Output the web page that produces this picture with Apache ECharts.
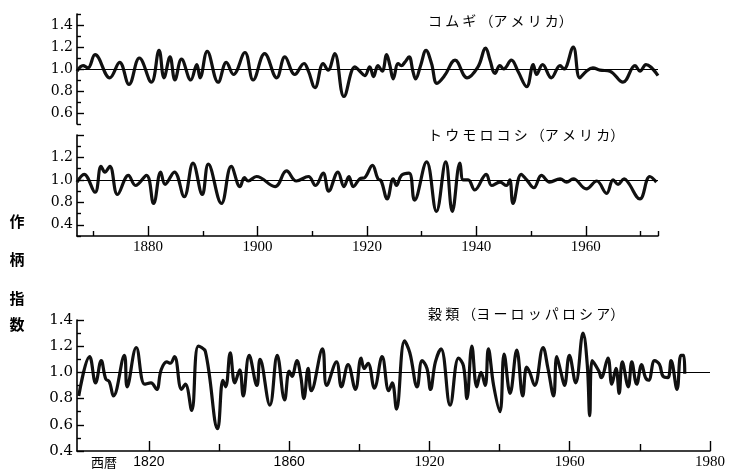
<!DOCTYPE html>
<html>
<head>
<meta charset="utf-8">
<script src="https://cdn.jsdelivr.net/npm/echarts@6/dist/echarts.min.js"></script>
<style>
html, body { margin: 0; padding: 0; background: #fff; }
#chart { width: 729px; height: 470px; }
</style>
</head>
<body>
<div id="chart"></div>
<script>
// wheat (USA) yield index, turning points
var wheatYr = [1867.0,1868.1,1869.0,1870.3,1873.0,1874.8,1876.5,1878.4,1880.6,1882.0,1882.9,1884.0,1884.9,1886.1,1887.8,1888.9,1889.5,1890.8,1892.8,1894.3,1895.6,1897.7,1899.2,1901.3,1903.5,1905.0,1906.8,1908.5,1909.3,1910.5,1912.0,1912.9,1914.1,1915.8,1917.8,
	1918.7,1919.6,1920.5,1921.2,1922.0,1922.8,1923.6,1924.2,1924.8,1925.7,1926.3,1926.9,1927.7,1928.4,1928.9,1929.8,1930.8,1931.8,1932.8,1934.2,1936.1,1938.3,1940.3,1941.7,1942.5,1943.4,1944.3,1945.0,1946.4,1947.6,1949.2,1950.4,1951.0,1952.1,1953.7,1955.3,1956.0,1957.7,1958.9,1960.1,1961.3,1962.6,1964.4,1966.8,1969.0,1969.9,1971.0,1973.2];
var wheatIdx = [0.98,1.03,1.01,1.13,0.92,1.06,0.86,1.10,0.88,1.17,0.92,1.11,0.90,1.09,0.90,1.04,0.92,1.16,0.88,1.06,0.95,1.15,0.90,1.14,0.92,1.11,0.95,1.05,0.98,0.83,1.05,0.99,1.14,0.75,1.02,
	0.98,0.94,1.02,0.93,1.03,0.98,1.13,1.03,0.91,1.05,1.03,1.06,1.11,0.98,0.91,1.03,1.17,1.05,0.87,0.94,1.08,0.92,1.02,1.19,1.08,0.96,1.03,1.00,1.08,0.98,0.84,1.04,0.95,1.04,0.92,1.03,1.00,1.20,0.92,0.98,1.01,0.99,0.98,0.88,1.03,0.98,1.04,0.94];

// corn (USA)
var cornYr = [1867.0,1868.3,1870.3,1871.4,1872.1,1873.0,1874.4,1876.4,1877.7,1879.7,1881.0,1882.3,1883.1,1884.8,1886.6,1888.2,1889.9,1891.0,1893.4,1895.2,1896.8,1897.6,1898.3,1899.8,1903.2,1905.3,1907.1,1909.3,1910.6,1912.0,1913.0,1914.7,1915.8,1916.7,1917.5,1918.7,1919.6,1921.0,1922.0,1922.6,
	1923.7,1924.8,1925.4,1926.3,1927.7,1928.7,1930.9,1932.7,1934.4,1935.6,1937.0,1937.6,1938.5,1939.7,1941.8,1942.8,1944.3,1945.5,1946.1,1946.7,1948.2,1949.2,1950.5,1951.9,1953.4,1955.3,1956.5,1957.7,1960.1,1962.0,1963.8,1965.0,1965.9,1967.0,1967.7,1969.9,1971.7,1972.9];
var cornIdx = [0.98,1.05,0.89,1.12,1.07,1.12,0.87,1.04,0.95,1.04,0.79,1.07,0.96,1.07,0.85,1.15,0.87,1.14,0.79,1.12,0.94,1.02,0.99,1.03,0.94,1.08,0.99,1.03,0.95,1.06,0.90,1.07,0.94,1.03,0.94,1.01,1.02,1.13,1.01,0.99,
	0.83,1.01,0.95,1.04,1.06,0.82,1.16,0.72,1.16,0.72,1.15,1.00,1.00,0.91,1.05,0.95,0.98,0.95,1.00,0.79,1.05,1.00,0.93,1.04,0.98,1.01,0.98,1.01,0.92,0.99,0.88,1.00,0.96,1.01,0.98,0.83,1.03,0.98];

// grains (European Russia)
var grainYr = [1800.0,1803.1,1804.8,1806.4,1807.7,1808.7,1809.9,1813.0,1813.8,1816.4,1818.8,1820.6,1822.2,1823.5,1825.1,1826.1,1827.3,1829.3,1830.4,1832.2,
	1834.1,1836.1,1839.6,1841.1,1841.9,1843.2,1844.5,1845.9,1846.9,1848.6,1850.8,1851.7,1854.5,1856.6,1858.7,1860.0,1860.8,1862.2,1863.3,1864.2,
	1865.4,1866.3,1869.5,1870.7,1873.5,1874.9,1876.8,1878.9,1880.5,1881.4,1882.5,1884.3,1886.5,1888.4,1889.4,1890.6,1892.9,1894.4,1896.5,1897.9,
	1899.3,1900.3,1901.7,1903.3,1905.9,1908.3,1909.7,1910.7,1912.1,1913.5,1914.7,1915.9,1916.8,1918.3,1920.1,1921.3,1923.0,1924.9,1926.6,1927.7,
	1928.6,1930.0,1932.4,1933.8,1935.4,1936.3,1937.5,1938.5,1939.9,1941.7,1943.8,1945.0,1945.7,1946.4,1948.3,1949.0,1950.9,1952.0,1953.2,1954.1,
	1955.0,1956.7,1957.7,1959.1,1960.5,1961.6,1962.5,1964.2,1965.6,1966.6,1968.0,1968.9,1970.6,1971.7,1972.5,1972.8];
var grainIdx = [0.82,1.12,0.92,1.09,0.95,0.93,0.82,1.13,0.89,1.19,0.91,0.92,0.87,1.02,1.08,1.07,1.12,0.87,0.91,0.71,
	1.20,1.16,0.57,0.94,0.89,1.15,0.92,1.02,0.82,1.13,0.90,1.10,0.75,1.13,0.79,1.01,0.97,1.09,0.97,0.80,
	1.03,0.86,1.18,0.90,1.08,0.89,1.06,0.87,1.11,1.03,1.07,0.88,1.12,0.86,0.92,0.72,1.24,1.15,0.89,1.09,
	1.03,0.87,1.08,1.18,0.75,1.11,1.05,0.80,1.20,0.89,1.00,0.90,1.18,0.90,0.70,1.14,0.84,1.17,0.82,1.04,
	1.00,0.90,1.19,1.03,0.82,1.12,1.00,0.90,1.13,0.92,1.30,1.06,0.67,1.09,1.01,0.96,1.11,0.91,1.03,0.84,
	1.08,0.89,1.08,0.91,1.06,0.96,0.94,1.09,1.06,0.97,0.96,1.09,0.87,1.13,1.13,0.99];

// tick marks and labels as printed
var usMajorYears = [1880, 1900, 1920, 1940, 1960];
var usMinorYears = [1870, 1890, 1910, 1930, 1950, 1970, 1973.2];
var ruMajorYears = [1820, 1860, 1900, 1940, 1980];
var ruMajorText = ['1820', '1860', '1920', '1960', '1980'];
var ruMinorYears = [1840, 1880, 1920, 1960];
var wheatYTicks = [0.6, 0.8, 1.0, 1.2, 1.4];
var wheatYMinor = [0.5, 0.7, 0.9, 1.1, 1.3, 1.5];
var cornYTicks = [0.6, 0.8, 1.0, 1.2, 1.4];
var cornYLabelAt = [0.6, 0.8, 1.0, 1.2];
var cornYText = ['0.4', '0.8', '1.0', '1.2'];
var cornYMinor = [0.5, 0.7, 0.9, 1.1, 1.3];
var grainYTicks = [0.4, 0.6, 0.8, 1.0, 1.2, 1.4];
var grainYMinor = [0.5, 0.7, 0.9, 1.1, 1.3];

var titles = ['コ ム ギ （ア メ リ カ）', 'ト ウ モ ロ コ シ （ア メ リ カ）', '穀 類 （ヨ ー ロ ッ パ ロ シ ア）'];
var yNameChars = ['作', '柄', '指', '数'];
var yNameY = [221, 259, 298, 324];

function pairs(xs, ys) {
	return xs.map(function (x, i) { return [x, ys[i]]; });
}

function pick(list, texts, v) {
	for (var i = 0; i < list.length; i++) {
		if (Math.abs(list[i] - v) < 1e-6) return texts[i];
	}
	return '';
}

var jp = '"Noto Sans CJK JP"';

// axis with line and labels only
function labelAxis(kind, grid, min, max, values, fmt, font, size, showLine) {
	return {
		type: 'value', gridIndex: grid, min: min, max: max,
		position: kind == 'x' ? 'bottom' : 'left',
		axisLine: { show: showLine, lineStyle: { color: '#000', width: 1.6 } },
		axisTick: { show: false },
		axisLabel: values ? {
			show: true, customValues: values, formatter: fmt, color: '#000',
			fontFamily: font, fontSize: size, margin: 4,
			rich: { s: { fontFamily: '"Liberation Sans"', fontSize: 14, color: '#000' } }
		} : { show: false },
		splitLine: { show: false }
	};
}

// axis that only draws ticks
function tickAxis(kind, grid, min, max, values, len) {
	return {
		type: 'value', gridIndex: grid, min: min, max: max,
		position: kind == 'x' ? 'bottom' : 'left',
		axisLine: { show: false },
		axisTick: { show: true, inside: true, length: len, customValues: values, lineStyle: { color: '#000', width: 1.4 } },
		axisLabel: { show: false },
		splitLine: { show: false }
	};
}

function curve(name, xi, yi, data) {
	return {
		name: name, type: 'line', xAxisIndex: xi, yAxisIndex: yi,
		data: data, smooth: 0.4, symbol: 'none',
		lineStyle: { color: '#111', width: 3.2 },
		markLine: {
			silent: true, symbol: 'none', label: { show: false },
			lineStyle: { color: '#000', width: 1.1, type: 'solid' },
			data: [{ yAxis: 1 }]
		}
	};
}

var fmt1 = function (v) { return v.toFixed(1); };
var serif = '"Liberation Serif"';
var dserif = '"DejaVu Serif"';

var chart = echarts.init(document.getElementById('chart'), null, { renderer: 'canvas' });

var graphics = [];
graphics.push({ type: 'text', x: 428, y: 21, style: { text: titles[0], font: '14px ' + jp, fill: '#000', verticalAlign: 'middle' } });
graphics.push({ type: 'text', x: 428, y: 135, style: { text: titles[1], font: '14px ' + jp, fill: '#000', verticalAlign: 'middle' } });
graphics.push({ type: 'text', x: 428, y: 314, style: { text: titles[2], font: '14px ' + jp, fill: '#000', verticalAlign: 'middle' } });
yNameChars.forEach(function (c, i) {
	graphics.push({ type: 'text', x: 17, y: yNameY[i], style: { text: c, font: 'bold 15px ' + jp, fill: '#000', align: 'center', verticalAlign: 'middle' } });
});
graphics.push({ type: 'text', x: 104, y: 462, style: { text: '西暦', font: '13px ' + jp, fill: '#000', align: 'center', verticalAlign: 'middle' } });

var US0 = 1867, US1 = 1973.2, RU0 = 1799.5, RU1 = 1980;

var option = {
	animation: false,
	backgroundColor: '#fff',
	grid: [
		{ left: 77, top: 14, width: 581, height: 110 },
		{ left: 77, top: 135, width: 581, height: 101 },
		{ left: 77, top: 320, width: 633, height: 132 }
	],
	xAxis: [
		labelAxis('x', 0, US0, US1, null, null, serif, 15, false),                 // 0
		labelAxis('x', 1, US0, US1, usMajorYears, function (v) { return String(Math.round(v)); }, serif, 15, true), // 1
		tickAxis('x', 1, US0, US1, usMajorYears, 10),                              // 2
		tickAxis('x', 1, US0, US1, usMinorYears, 5),                               // 3
		labelAxis('x', 2, RU0, RU1, ruMajorYears, function (v) {
			var t = pick(ruMajorYears, ruMajorText, v);
			return (t === '1820' || t === '1860') ? '{s|' + t + '}' : t;
		}, serif, 15, true),                                                      // 4
		tickAxis('x', 2, RU0, RU1, ruMajorYears, 10),                              // 5
		tickAxis('x', 2, RU0, RU1, ruMinorYears, 7)                                // 6
	],
	yAxis: [
		labelAxis('y', 0, 0.5, 1.5, wheatYTicks, fmt1, dserif, 14, true),          // 0
		tickAxis('y', 0, 0.5, 1.5, wheatYTicks, 7),                                // 1
		tickAxis('y', 0, 0.5, 1.5, wheatYMinor, 4),                                // 2
		labelAxis('y', 1, 0.5, 1.4, cornYLabelAt, function (v) { return pick(cornYLabelAt, cornYText, v); }, dserif, 14, true), // 3
		tickAxis('y', 1, 0.5, 1.4, cornYTicks, 7),                                 // 4
		tickAxis('y', 1, 0.5, 1.4, cornYMinor, 4),                                 // 5
		labelAxis('y', 2, 0.4, 1.4, grainYTicks, fmt1, dserif, 15, true),          // 6
		tickAxis('y', 2, 0.4, 1.4, grainYTicks, 7),                                // 7
		tickAxis('y', 2, 0.4, 1.4, grainYMinor, 4)                                 // 8
	],
	series: [
		curve('コムギ', 0, 0, pairs(wheatYr, wheatIdx)),
		curve('トウモロコシ', 1, 3, pairs(cornYr, cornIdx)),
		curve('穀類', 4, 6, pairs(grainYr, grainIdx))
	],
	graphic: { elements: graphics }
};

chart.setOption(option);
</script>
</body>
</html>
